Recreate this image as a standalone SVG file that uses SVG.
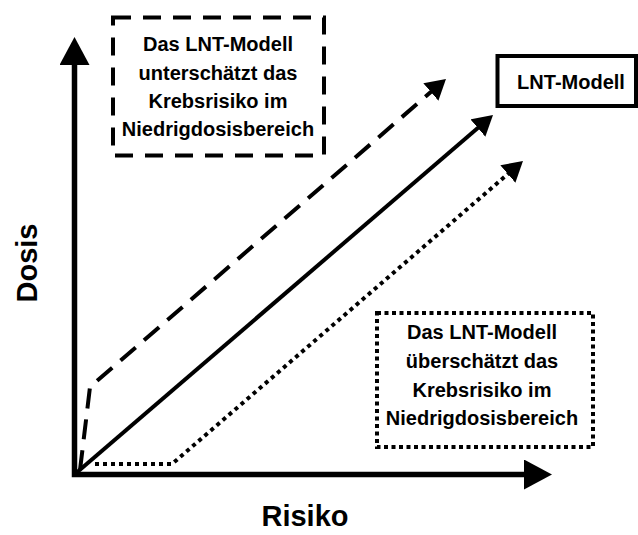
<svg xmlns="http://www.w3.org/2000/svg" width="638" height="535" viewBox="0 0 638 535">
<style>
  .t { font-family: "Liberation Sans", Arial, sans-serif; font-weight: bold; font-size: 20px; fill: #000; text-anchor: middle; }
  .ax { font-family: "Liberation Sans", Arial, sans-serif; font-weight: bold; font-size: 29px; fill: #000; text-anchor: middle; }
  .line { fill: none; stroke: #000; stroke-width: 4; }
  .box { fill: #fff; stroke: #000; stroke-width: 4; }
</style>
<defs>
  <marker id="head" viewBox="0 0 20 23" refX="8" refY="11.5" markerWidth="20" markerHeight="23" markerUnits="userSpaceOnUse" orient="auto">
    <path d="M0,0 L20,11.5 L0,23 Z" fill="#000"/>
  </marker>
  <marker id="axhead" viewBox="0 0 28 30" refX="10" refY="15" markerWidth="28" markerHeight="30" markerUnits="userSpaceOnUse" orient="auto-start-reverse">
    <path d="M0,0 L28,15 L0,30 Z" fill="#000"/>
  </marker>
</defs>
<g id="connectors">
  <path id="axes" d="M74.5,55 L74.5,474.5 L534,474.5" fill="none" stroke="#000" stroke-width="5.5" stroke-linejoin="miter" marker-start="url(#axhead)" marker-end="url(#axhead)"/>
  <path id="lnt-line" class="line" d="M75,474 L483.9,122.8" marker-end="url(#head)"/>
  <path id="under-line" class="line" d="M80,470 L90,387 L436.9,86.8" stroke-dasharray="20 11" marker-end="url(#head)"/>
  <path id="over-line" class="line" d="M95,464 L172,464 L513.9,168.8" stroke-dasharray="4 4" marker-end="url(#head)"/>
</g>
<g id="node-under">
  <rect class="box" x="113" y="17.5" width="211" height="138" stroke-dasharray="18 12"/>
  <text class="t" x="218" y="51">Das LNT-Modell</text>
  <text class="t" x="218" y="80">unterschätzt das</text>
  <text class="t" x="218" y="108">Krebsrisiko im</text>
  <text class="t" x="218" y="136">Niedrigdosisbereich</text>
</g>
<g id="node-lnt">
  <rect class="box" x="497.5" y="56" width="138.5" height="50"/>
  <text class="t" x="571" y="89">LNT-Modell</text>
</g>
<g id="node-over">
  <rect class="box" x="377" y="313" width="216" height="134" stroke-dasharray="4 3.5"/>
  <text class="t" x="482" y="339">Das LNT-Modell</text>
  <text class="t" x="482" y="368">überschätzt das</text>
  <text class="t" x="482" y="397">Krebsrisiko im</text>
  <text class="t" x="482" y="425">Niedrigdosisbereich</text>
</g>
<g id="label-dosis">
  <text class="ax" transform="translate(37,263) rotate(-90)" x="0" y="0">Dosis</text>
</g>
<g id="label-risiko">
  <text class="ax" x="305" y="526">Risiko</text>
</g>
</svg>
